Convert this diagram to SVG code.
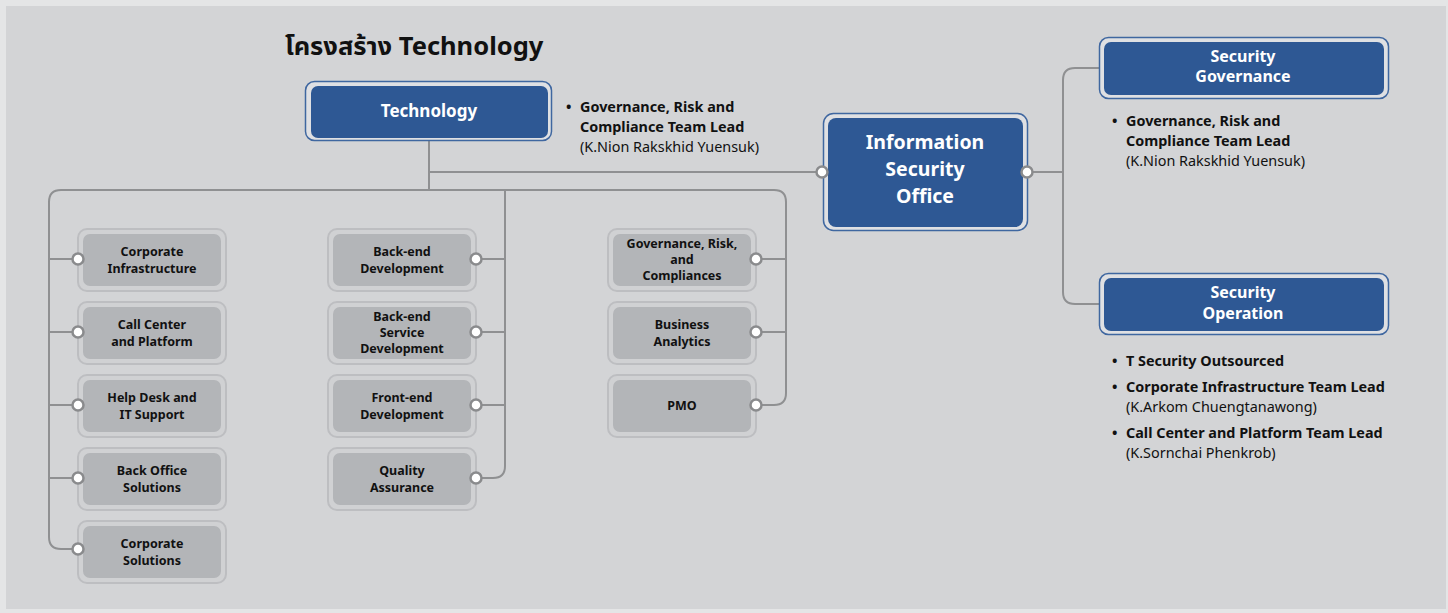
<svg xmlns="http://www.w3.org/2000/svg" width="1448" height="613" viewBox="0 0 1448 613">
<style>
text{font-family:"Noto Sans","Noto Sans Thai","DejaVu Sans",sans-serif;}
.t{font-size:25.5px;font-weight:700;fill:#111;}
.bo{fill:#dfe0e3;stroke:#3f67a0;stroke-width:1.5;}
.bi{fill:#2e5894;}
.bl{fill:#fff;font-weight:700;text-anchor:middle;}
.go{fill:#d0d1d3;stroke:#bdbec1;stroke-width:2;}
.gi{fill:#b3b5b8;}
.gl{fill:#111;font-size:12.5px;font-weight:700;text-anchor:middle;}
.ln{fill:none;stroke:#8f9092;stroke-width:2;}
.dot{fill:#fff;stroke:#8a8b8d;stroke-width:2.5;}
.bt{font-size:14.4px;fill:#111;}
.bb{font-weight:700;}
</style>
<rect x="0" y="0" width="1448" height="613" fill="#e4e5e6"/>
<rect x="6" y="6" width="1440" height="603" fill="#d3d4d6"/>
<text class="t" x="285" y="55">โครงสร้าง Technology</text>

<g id="connectors">
<path class="ln" d="M429 141 V190"/>
<path class="ln" d="M429 172 H822"/>
<path class="ln" d="M61 190 H774 Q786 190 786 202 V393 Q786 405 774 405 H756"/>
<path class="ln" d="M505 190 V466 Q505 478 493 478 H476"/>
<path class="ln" d="M61 190 Q49 190 49 202 V537 Q49 549 61 549 H78"/>
<path class="ln" d="M49 259 H78 M49 332 H78 M49 405 H78 M49 478 H78"/>
<path class="ln" d="M476 259 H505 M476 332 H505 M476 405 H505"/>
<path class="ln" d="M756 259 H786 M756 332 H786"/>
<path class="ln" d="M1027 172 H1063"/>
<path class="ln" d="M1100 68 H1075 Q1063 68 1063 80 V292 Q1063 304 1075 304 H1100"/>
</g>

<g id="technology">
<rect class="bo" x="305.5" y="81.5" width="246" height="59" rx="9"/>
<rect class="bi" x="311" y="86" width="237" height="52" rx="7"/>
<text class="bl" x="429" y="117" font-size="17">Technology</text>
</g>
<g id="technology-note">
<text class="bt bb" x="566" y="112">•</text>
<text class="bt bb" x="580" y="112">Governance, Risk and</text>
<text class="bt bb" x="580" y="132">Compliance Team Lead</text>
<text class="bt" x="580" y="152">(K.Nion Rakskhid Yuensuk)</text>
</g>

<g id="iso">
<rect class="bo" x="823.5" y="113.5" width="204" height="117" rx="10"/>
<rect class="bi" x="828" y="118" width="195" height="109" rx="8"/>
<text class="bl" font-size="19.5"><tspan x="925" y="149">Information</tspan><tspan x="925" y="176">Security</tspan><tspan x="925" y="203">Office</tspan></text>
<circle class="dot" cx="822" cy="172" r="5.5"/>
<circle class="dot" cx="1027" cy="172" r="5.5"/>
</g>

<g id="security-governance">
<rect class="bo" x="1099.5" y="37.5" width="289" height="61" rx="9"/>
<rect class="bi" x="1104" y="42" width="280" height="53" rx="7"/>
<text class="bl" font-size="16"><tspan x="1243" y="62">Security</tspan><tspan x="1243" y="82">Governance</tspan></text>
</g>
<g id="sg-note">
<text class="bt bb" x="1112" y="126">•</text>
<text class="bt bb" x="1126" y="126">Governance, Risk and</text>
<text class="bt bb" x="1126" y="146">Compliance Team Lead</text>
<text class="bt" x="1126" y="166">(K.Nion Rakskhid Yuensuk)</text>
</g>

<g id="security-operation">
<rect class="bo" x="1099.5" y="273.5" width="289" height="61" rx="9"/>
<rect class="bi" x="1104" y="278" width="280" height="53" rx="7"/>
<text class="bl" font-size="16"><tspan x="1243" y="298">Security</tspan><tspan x="1243" y="319">Operation</tspan></text>
</g>
<g id="so-note">
<text class="bt bb" x="1112" y="366">•</text>
<text class="bt bb" x="1126" y="366">T Security Outsourced</text>
<text class="bt bb" x="1112" y="392">•</text>
<text class="bt bb" x="1126" y="392">Corporate Infrastructure Team Lead</text>
<text class="bt" x="1126" y="412">(K.Arkom Chuengtanawong)</text>
<text class="bt bb" x="1112" y="438">•</text>
<text class="bt bb" x="1126" y="438">Call Center and Platform Team Lead</text>
<text class="bt" x="1126" y="458">(K.Sornchai Phenkrob)</text>
</g>

<g id="corporate-infrastructure">
<rect class="go" x="78" y="229" width="148" height="62" rx="9"/>
<rect class="gi" x="83" y="234" width="138" height="52" rx="7"/>
<text class="gl"><tspan x="152" y="256">Corporate</tspan><tspan x="152" y="273">Infrastructure</tspan></text>
<circle class="dot" cx="78" cy="259" r="5.5"/>
</g>
<g id="call-center">
<rect class="go" x="78" y="302" width="148" height="62" rx="9"/>
<rect class="gi" x="83" y="307" width="138" height="52" rx="7"/>
<text class="gl"><tspan x="152" y="329">Call Center</tspan><tspan x="152" y="346">and Platform</tspan></text>
<circle class="dot" cx="78" cy="332" r="5.5"/>
</g>
<g id="help-desk">
<rect class="go" x="78" y="375" width="148" height="62" rx="9"/>
<rect class="gi" x="83" y="380" width="138" height="52" rx="7"/>
<text class="gl"><tspan x="152" y="402">Help Desk and</tspan><tspan x="152" y="419">IT Support</tspan></text>
<circle class="dot" cx="78" cy="405" r="5.5"/>
</g>
<g id="back-office">
<rect class="go" x="78" y="448" width="148" height="62" rx="9"/>
<rect class="gi" x="83" y="453" width="138" height="52" rx="7"/>
<text class="gl"><tspan x="152" y="475">Back Office</tspan><tspan x="152" y="492">Solutions</tspan></text>
<circle class="dot" cx="78" cy="478" r="5.5"/>
</g>
<g id="corporate-solutions">
<rect class="go" x="78" y="521" width="148" height="62" rx="9"/>
<rect class="gi" x="83" y="526" width="138" height="52" rx="7"/>
<text class="gl"><tspan x="152" y="548">Corporate</tspan><tspan x="152" y="565">Solutions</tspan></text>
<circle class="dot" cx="78" cy="549" r="5.5"/>
</g>

<g id="backend-dev">
<rect class="go" x="328" y="229" width="148" height="62" rx="9"/>
<rect class="gi" x="333" y="234" width="138" height="52" rx="7"/>
<text class="gl"><tspan x="402" y="256">Back-end</tspan><tspan x="402" y="273">Development</tspan></text>
<circle class="dot" cx="476" cy="259" r="5.5"/>
</g>
<g id="backend-service-dev">
<rect class="go" x="328" y="302" width="148" height="62" rx="9"/>
<rect class="gi" x="333" y="307" width="138" height="52" rx="7"/>
<text class="gl"><tspan x="402" y="321">Back-end</tspan><tspan x="402" y="337">Service</tspan><tspan x="402" y="353">Development</tspan></text>
<circle class="dot" cx="476" cy="332" r="5.5"/>
</g>
<g id="frontend-dev">
<rect class="go" x="328" y="375" width="148" height="62" rx="9"/>
<rect class="gi" x="333" y="380" width="138" height="52" rx="7"/>
<text class="gl"><tspan x="402" y="402">Front-end</tspan><tspan x="402" y="419">Development</tspan></text>
<circle class="dot" cx="476" cy="405" r="5.5"/>
</g>
<g id="quality-assurance">
<rect class="go" x="328" y="448" width="148" height="62" rx="9"/>
<rect class="gi" x="333" y="453" width="138" height="52" rx="7"/>
<text class="gl"><tspan x="402" y="475">Quality</tspan><tspan x="402" y="492">Assurance</tspan></text>
<circle class="dot" cx="476" cy="478" r="5.5"/>
</g>

<g id="grc">
<rect class="go" x="608" y="229" width="148" height="62" rx="9"/>
<rect class="gi" x="613" y="234" width="138" height="52" rx="7"/>
<text class="gl"><tspan x="682" y="248">Governance, Risk,</tspan><tspan x="682" y="264">and</tspan><tspan x="682" y="280">Compliances</tspan></text>
<circle class="dot" cx="756" cy="259" r="5.5"/>
</g>
<g id="business-analytics">
<rect class="go" x="608" y="302" width="148" height="62" rx="9"/>
<rect class="gi" x="613" y="307" width="138" height="52" rx="7"/>
<text class="gl"><tspan x="682" y="329">Business</tspan><tspan x="682" y="346">Analytics</tspan></text>
<circle class="dot" cx="756" cy="332" r="5.5"/>
</g>
<g id="pmo">
<rect class="go" x="608" y="375" width="148" height="62" rx="9"/>
<rect class="gi" x="613" y="380" width="138" height="52" rx="7"/>
<text class="gl" x="682" y="410">PMO</text>
<circle class="dot" cx="756" cy="405" r="5.5"/>
</g>
</svg>
